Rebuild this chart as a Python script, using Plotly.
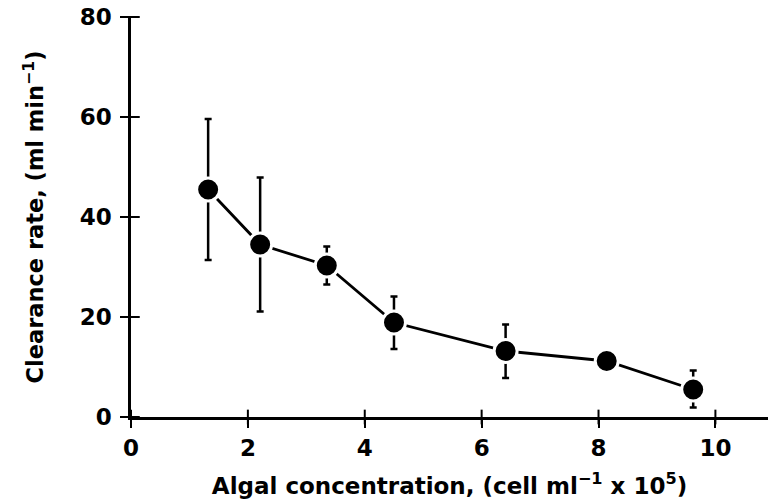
import plotly.graph_objects as go

# Data
algal_conc = [1.32, 2.21, 3.35, 4.50, 6.41, 8.14, 9.62]
clearance = [45.5, 34.5, 30.3, 18.9, 13.2, 11.2, 5.5]
err_plus = [14.1, 13.4, 3.8, 5.2, 5.3, 0.8, 3.8]
err_minus = [14.1, 13.4, 3.8, 5.3, 5.4, 0.8, 3.6]

x_ticks = [0, 2, 4, 6, 8, 10]
y_ticks = [0, 20, 40, 60, 80]
x_range = [0, 10.9]
y_range = [0, 80]

FONT = "DejaVu Sans"

fig = go.Figure()
fig.add_trace(go.Scatter(
    x=algal_conc, y=clearance,
    mode="lines+markers",
    line=dict(color="black", width=2.8),
    marker=dict(color="black", size=23, line=dict(color="white", width=3)),
    error_y=dict(type="data", symmetric=False, array=err_plus, arrayminus=err_minus,
                 color="black", thickness=2.5, width=3.5),
    showlegend=False, hoverinfo="skip",
))
# inward half of the crossing tick marks, placed at the tick values
fig.add_trace(go.Scatter(
    x=x_ticks, y=[y_range[0]] * len(x_ticks), mode="markers", cliponaxis=False,
    marker=dict(symbol="line-ns-open", size=10.5, color="black",
                line=dict(color="black", width=2)),
    showlegend=False, hoverinfo="skip",
))
fig.add_trace(go.Scatter(
    x=[x_range[0]] * len(y_ticks), y=y_ticks, mode="markers", cliponaxis=False,
    marker=dict(symbol="line-ew-open", size=12.5, color="black",
                line=dict(color="black", width=2)),
    showlegend=False, hoverinfo="skip",
))

tickfont = dict(family=FONT, size=23, color="black", weight="bold")
fig.update_layout(
    width=768, height=502,
    margin=dict(l=131, r=0, t=17, b=85),
    paper_bgcolor="white", plot_bgcolor="white",
    font=dict(family=FONT, color="black"),
    xaxis=dict(
        range=x_range, tickvals=x_ticks, ticktext=[str(v) for v in x_ticks],
        showgrid=False, zeroline=False, showline=True, linecolor="black", linewidth=2.5,
        ticks="outside", ticklen=8, tickwidth=2, tickcolor="black",
        tickfont=tickfont, ticklabelstandoff=1,
        title=dict(text="Algal concentration, (cell ml<sup>−1</sup> x 10<sup>5</sup>)",
                   font=dict(family=FONT, size=23, color="black", weight="bold"),
                   standoff=18),
    ),
    yaxis=dict(
        range=y_range, tickvals=y_ticks, ticktext=[str(v) for v in y_ticks],
        showgrid=False, zeroline=False, showline=True, linecolor="black", linewidth=2.5,
        ticks="outside", ticklen=8, tickwidth=2, tickcolor="black",
        tickfont=tickfont, ticklabelstandoff=4,
        title=dict(text="Clearance rate, (ml min<sup>−1</sup>)",
                   font=dict(family=FONT, size=22.5, color="black", weight="bold"),
                   standoff=30),
    ),
)

fig.write_html("out.html")
